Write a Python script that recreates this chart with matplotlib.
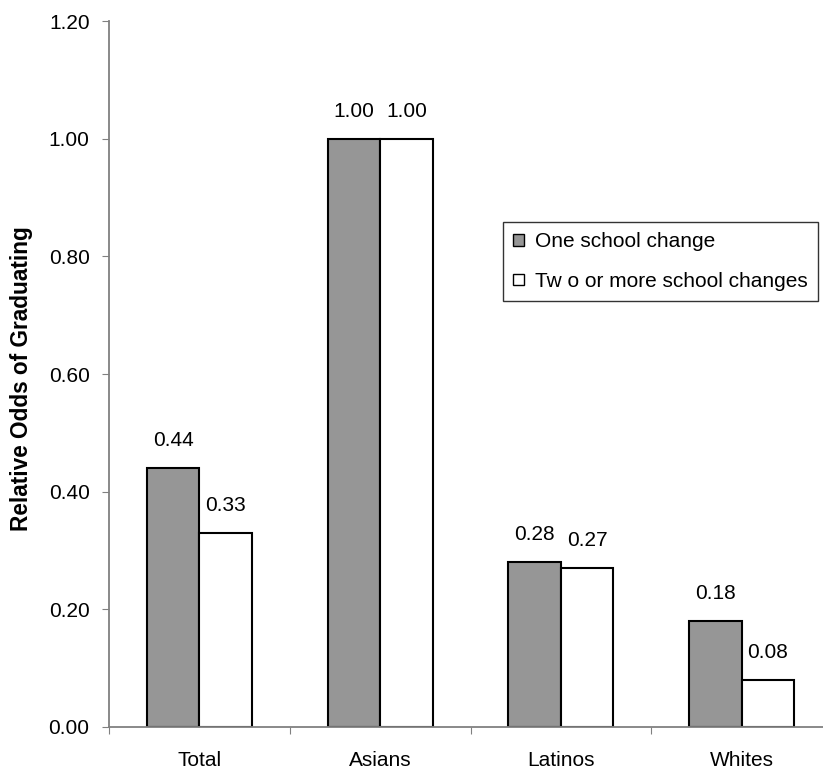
import matplotlib
matplotlib.use("Agg")
import matplotlib.pyplot as plt
import numpy as np

categories = ["Total", "Asians", "Latinos", "Whites"]
one_change = [0.44, 1.00, 0.28, 0.18]
two_more = [0.33, 1.00, 0.27, 0.08]
series_names = ["One school change", "Tw o or more school changes"]
y_ticks = [0.0, 0.2, 0.4, 0.6, 0.8, 1.0, 1.2]

plt.rcParams["font.family"] = ["Liberation Sans", "DejaVu Sans"]
FS = 15
W, H = 823, 769
fig = plt.figure(figsize=(W / 100, H / 100), dpi=100)
ax = fig.add_axes([109 / W, (H - 727) / H, (832 - 109) / W, (727 - 21) / H])

x = np.arange(len(categories))
bw = 0.29
b1 = ax.bar(x - bw / 2, one_change, bw, color="#969696", edgecolor="black", linewidth=1.5, label=series_names[0])
b2 = ax.bar(x + bw / 2, two_more, bw, color="white", edgecolor="black", linewidth=1.5, label=series_names[1])

for bars, vals in ((b1, one_change), (b2, two_more)):
    for r, v in zip(bars, vals):
        ax.annotate(f"{v:.2f}", (r.get_x() + r.get_width() / 2, v), xytext=(0, 13),
                    textcoords="offset points", ha="center", va="bottom", fontsize=FS)

ax.set_xlim(-0.5, len(categories) - 0.5)
ax.set_ylim(0, 1.2)
ax.set_yticks(y_ticks)
ax.set_yticklabels([f"{t:.2f}" for t in y_ticks], fontsize=FS)
ax.set_xticks(np.arange(len(categories) + 1) - 0.5)
ax.set_xticklabels([])
ax.set_xticks(x, minor=True)
ax.set_xticklabels(categories, minor=True, fontsize=FS)
ax.tick_params(axis="x", which="minor", length=0, pad=17)
ax.tick_params(axis="x", which="major", length=5, color="#808080")
ax.tick_params(axis="y", length=5, color="#808080", pad=9)
for s in ("top", "right"):
    ax.spines[s].set_visible(False)
for s in ("left", "bottom"):
    ax.spines[s].set_color("#808080")
    ax.spines[s].set_linewidth(1.3)

ax.set_ylabel("Relative Odds of Graduating", fontsize=16.3, fontweight="bold", va="center")
ax.yaxis.set_label_coords((22 - 109) / 723, 0.494)

leg = ax.legend(loc="upper left", bbox_to_anchor=(503 / W, (H - 222) / H), bbox_transform=fig.transFigure,
                fontsize=FS, frameon=True, fancybox=False, edgecolor="black", handlelength=0.5,
                handleheight=0.5, handletextpad=0.55, borderpad=0.5, labelspacing=0.98, borderaxespad=0)
leg.get_frame().set_linewidth(1.0)
for h in leg.legend_handles:
    h.set_linewidth(1.0)

fig.savefig("out.png", dpi=100)
